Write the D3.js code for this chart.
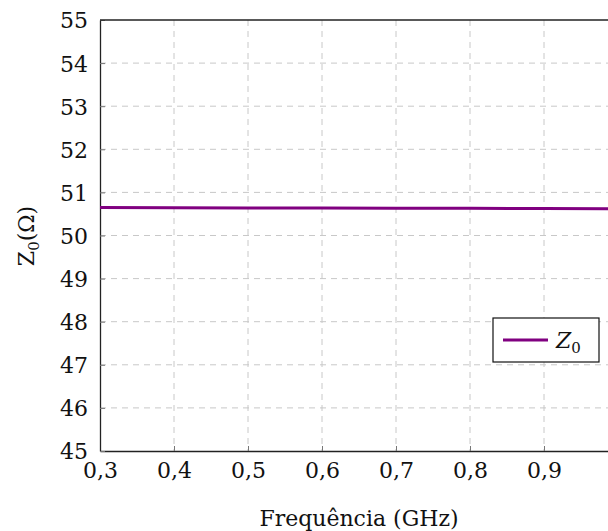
<!DOCTYPE html>
<html>
<head>
<meta charset="utf-8">
<script src="https://cdn.jsdelivr.net/npm/d3@7"></script>
<style>
  body { margin: 0; background: #fff; }
  svg { display: block; }
  svg text { font-family: "DejaVu Serif", "Liberation Serif", serif; }
</style>
</head>
<body>
<svg id="chart" width="608" height="531"></svg>
<script>
// data
const freqGHz = [0.3, 0.4, 0.5, 0.6, 0.7, 0.8, 0.9, 1.0];
const z0Ohm = [50.65, 50.645, 50.64, 50.638, 50.633, 50.63, 50.625, 50.62];
const xTicks = [0.3, 0.4, 0.5, 0.6, 0.7, 0.8, 0.9];
const yTicks = [45, 46, 47, 48, 49, 50, 51, 52, 53, 54, 55];

const svg = d3.select("#chart");

// plot box (right edge runs past the window, as in the figure)
const plotL = 100, plotR = 618, plotT = 20, plotB = 451;

const x = d3.scaleLinear().domain([0.3, 1.0]).range([plotL, plotR]);
const y = d3.scaleLinear().domain([45, 55]).range([plotB, plotT]);

const fmt = d => d3.format(".1f")(d).replace(".", ",");

// grid lines
const grid = svg.append("g")
    .attr("stroke", "#c8c8c8")
    .attr("stroke-width", 1)
    .attr("stroke-dasharray", "6,5");

grid.selectAll(".vgrid")
    .data(xTicks.slice(1))
    .enter().append("line")
    .attr("x1", d => x(d)).attr("x2", d => x(d))
    .attr("y1", plotT).attr("y2", plotB);

grid.selectAll(".hgrid")
    .data(yTicks.slice(1, -1))
    .enter().append("line")
    .attr("x1", plotL).attr("x2", plotR)
    .attr("y1", d => y(d)).attr("y2", d => y(d));

// axes
const xAxis = svg.append("g")
    .attr("transform", `translate(0,${plotB})`)
    .call(d3.axisBottom(x).tickValues(xTicks).tickFormat(fmt).tickSizeInner(-5).tickSizeOuter(0).tickPadding(12));

const yAxis = svg.append("g")
    .attr("transform", `translate(${plotL},0)`)
    .call(d3.axisLeft(y).tickValues(yTicks).tickFormat(d3.format("d")).tickSizeInner(-5).tickSizeOuter(0).tickPadding(12));

[xAxis, yAxis].forEach(a => {
    a.attr("font-family", null);
    a.select(".domain").attr("stroke", "#222").attr("stroke-width", 1.3);
    a.selectAll(".tick line").attr("stroke", "#777").attr("stroke-width", 1);
    a.selectAll(".tick text")
        .attr("fill", "#111")
        .style("font-size", "22px");
});
yAxis.selectAll(".tick text").attr("dy", "0.36em");
xAxis.selectAll(".tick text").attr("dy", "0.68em");

// top border
svg.append("line")
    .attr("x1", plotL).attr("x2", plotR)
    .attr("y1", plotT).attr("y2", plotT)
    .attr("stroke", "#222").attr("stroke-width", 1.3);

// data line
const line = d3.line().x((d, i) => x(freqGHz[i])).y(d => y(d));
svg.append("path")
    .datum(z0Ohm)
    .attr("fill", "none")
    .attr("stroke", "#800080")
    .attr("stroke-width", 3)
    .attr("d", line);

// legend
const lg = svg.append("g").attr("transform", "translate(493,318)");
lg.append("rect")
    .attr("width", 106).attr("height", 44)
    .attr("fill", "#fff").attr("stroke", "#111").attr("stroke-width", 1.2);
lg.append("line")
    .attr("x1", 10).attr("x2", 55)
    .attr("y1", 22).attr("y2", 22)
    .attr("stroke", "#800080").attr("stroke-width", 3);
const lt = lg.append("text")
    .attr("x", 63).attr("y", 30)
    .style("font-size", "22px").attr("fill", "#111");
lt.append("tspan").attr("font-style", "italic").text("Z");
lt.append("tspan").attr("dy", 5).style("font-size", "15px").text("0");

// axis titles
svg.append("text")
    .attr("x", 359).attr("y", 526)
    .attr("text-anchor", "middle")
    .style("font-size", "22px").attr("fill", "#111")
    .text("Frequência (GHz)");

const yt = svg.append("text")
    .attr("transform", "translate(34,236) rotate(-90)")
    .attr("text-anchor", "middle")
    .style("font-size", "22px").attr("fill", "#111");
yt.append("tspan").text("Z");
yt.append("tspan").attr("dy", 5).style("font-size", "15px").text("0");
yt.append("tspan").attr("dy", -5).text("(Ω)");
</script>
</body>
</html>
